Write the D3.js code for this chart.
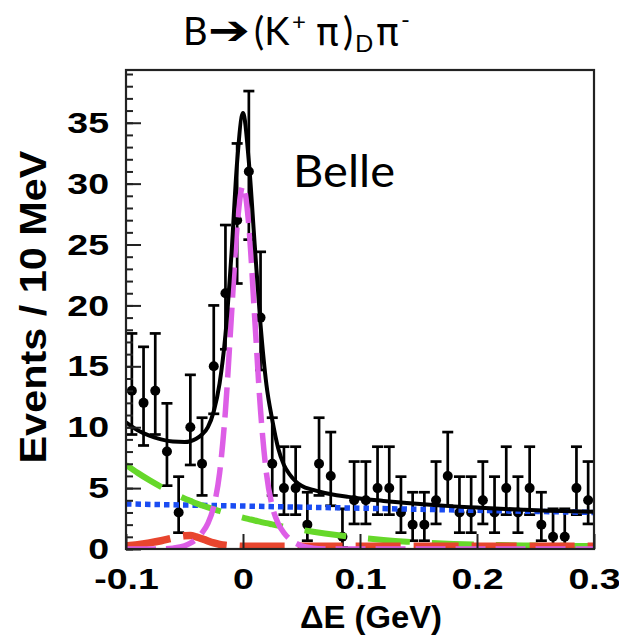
<!DOCTYPE html>
<html>
<head>
<meta charset="utf-8">
<script src="https://cdn.jsdelivr.net/npm/d3@7"></script>
<style>
  html, body { margin: 0; padding: 0; background: #fff; }
  svg { display: block; }
</style>
</head>
<body>
<svg id="chart" width="619" height="637"></svg>
<script>
// ---- Data: ΔE distribution, 10 MeV bins ----
const binCenters = [
  -0.095, -0.085, -0.075, -0.065, -0.055, -0.045, -0.035, -0.025, -0.015, -0.005,
   0.005,  0.015,  0.025,  0.035,  0.045,  0.055,  0.065,  0.075,  0.085,  0.095,
   0.105,  0.115,  0.125,  0.135,  0.145,  0.155,  0.165,  0.175,  0.185,  0.195,
   0.205,  0.215,  0.225,  0.235,  0.245,  0.255,  0.265,  0.275,  0.285,  0.295
];
const counts = [
  13, 12, 13, 8, 3, 10, 7, 15, 21, 27,
  31, 19, 7, 5, 5, 2, 7, 6, 1, 4,
  4, 5, 5, 3, 2, 2, 4, 6, 3, 3,
  4, 3, 5, 3, 5, 2, 1, 1, 5, 4
];
// upper / lower ends of the error bars
const errHigh = [
  17.7, 16.6, 17.7, 11.96, 5.94, 14.3, 10.78, 20.0, 26.6, 33.3,
  37.6, 24.4, 10.78, 8.4, 8.4, 4.66, 10.78, 9.6, 3.3, 7.18,
  7.18, 8.4, 8.4, 5.94, 4.66, 4.66, 7.18, 9.6, 5.94, 5.94,
  7.18, 5.94, 8.4, 5.94, 8.4, 4.66, 3.3, 3.3, 8.4, 7.18
];
const errLow = [
  9.4, 8.5, 9.4, 5.2, 1.34, 6.9, 4.4, 11.1, 16.4, 21.8,
  25.4, 14.7, 4.4, 2.82, 2.82, 0.68, 4.4, 3.55, 0.13, 2.06,
  2.06, 2.82, 2.82, 1.34, 0.68, 0.68, 2.06, 3.55, 1.34, 1.34,
  2.06, 1.34, 2.82, 1.34, 2.82, 0.68, 0.13, 0.13, 2.82, 2.06
];

// ---- Fit components sampled on a common ΔE grid ----
const curveX = [
  -0.1, -0.09, -0.08, -0.07, -0.06, -0.05, -0.045, -0.04, -0.035, -0.03,
  -0.025, -0.02, -0.015, -0.01, -0.005, 0, 0.005, 0.01, 0.015, 0.02,
  0.025, 0.03, 0.035, 0.04, 0.045, 0.05, 0.06, 0.07, 0.08, 0.09,
  0.1, 0.12, 0.14, 0.16, 0.18, 0.2, 0.22, 0.24, 0.26, 0.28, 0.3
];
const fitTotal = [
  10.4, 9.75, 9.3, 9.0, 8.82, 8.78, 8.85, 9.05, 9.4, 10.0,
  11.3, 13.6, 17.6, 24.0, 31.8, 35.8, 31.8, 25.0, 18.4, 13.5,
  10.6, 8.3, 6.9, 6.1, 5.55, 5.2, 4.85, 4.6, 4.42, 4.28,
  4.15, 3.95, 3.78, 3.63, 3.5, 3.4, 3.3, 3.22, 3.15, 3.1, 3.05
];
const signalPdf = [
  0, 0, 0, 0.01, 0.07, 0.26, 0.48, 0.81, 1.33, 2.11,
  3.5, 6.23, 11.37, 18.97, 26.54, 29.8, 26.54, 18.97, 11.37, 6.23,
  3.5, 2.11, 1.33, 0.81, 0.48, 0.26, 0.07, 0.01, 0, 0,
  0, 0, 0, 0, 0, 0, 0, 0, 0, 0, 0
];
const combBg = [
  6.9, 6.25, 5.65, 5.1, 4.6, 4.15, 3.95, 3.75, 3.58, 3.42,
  3.27, 3.12, 2.98, 2.84, 2.71, 2.58, 2.46, 2.34, 2.23, 2.12,
  2.02, 1.92, 1.83, 1.74, 1.65, 1.57, 1.42, 1.28, 1.15, 1.03,
  0.92, 0.74, 0.6, 0.5, 0.42, 0.36, 0.32, 0.29, 0.27, 0.25, 0.24
];
const peakingBg = [
  0.25, 0.35, 0.5, 0.68, 0.9, 1.08, 1.1, 1.0, 0.84, 0.66,
  0.5, 0.38, 0.3, 0.26, 0.24, 0.22, 0.22, 0.22, 0.22, 0.22,
  0.22, 0.22, 0.22, 0.22, 0.22, 0.22, 0.22, 0.22, 0.22, 0.22,
  0.22, 0.22, 0.22, 0.22, 0.22, 0.22, 0.22, 0.22, 0.22, 0.22, 0.22
];
const continuumX = [-0.1, 0.3];
const continuumY = [3.7, 3.0];

// ---- Axis ticks ----
const xTickValues = [-0.1, 0, 0.1, 0.2, 0.3];
const xTickLabels = ["-0.1", "0", "0.1", "0.2", "0.3"];
const yTickValues = [0, 5, 10, 15, 20, 25, 30, 35];
const yTickLabels = ["0", "5", "10", "15", "20", "25", "30", "35"];
const yMinorValues = d3.range(0, 40, 1);

// ---- Layout ----
const plot = { left: 126, right: 594, top: 70, bottom: 549 };
const svg = d3.select("#chart");

const x = d3.scaleLinear().domain([-0.1, 0.3]).range([plot.left, plot.right]);
const y = d3.scaleLinear().domain([0, 39.33]).range([plot.bottom, plot.top]);

svg.append("defs").append("clipPath").attr("id", "plotClip")
  .append("rect")
  .attr("x", plot.left).attr("y", plot.top)
  .attr("width", plot.right - plot.left).attr("height", plot.bottom - plot.top);

const tickFont = "'Liberation Sans', Arial, Helvetica, sans-serif";
const stretch = 1.25;
function widen(sel, factor) {
  sel.each(function () {
    const w = this.getComputedTextLength();
    d3.select(this).attr("textLength", w * factor).attr("lengthAdjust", "spacingAndGlyphs");
  });
}

// ---- Data points with error bars ----
const pts = svg.append("g").attr("clip-path", "url(#plotClip)");
const bins = binCenters.map((c, i) => ({ c, n: counts[i], hi: errHigh[i], lo: errLow[i] }));
const capHalf = 5.5;
const barW = 2.7;
pts.selectAll("line.bar").data(bins).join("line")
  .attr("class", "bar")
  .attr("x1", d => x(d.c)).attr("x2", d => x(d.c))
  .attr("y1", d => y(d.lo)).attr("y2", d => y(d.hi))
  .attr("stroke", "#000").attr("stroke-width", barW);
pts.selectAll("line.capHi").data(bins).join("line")
  .attr("class", "capHi")
  .attr("x1", d => x(d.c) - capHalf).attr("x2", d => x(d.c) + capHalf)
  .attr("y1", d => y(d.hi)).attr("y2", d => y(d.hi))
  .attr("stroke", "#000").attr("stroke-width", barW);
pts.selectAll("line.capLo").data(bins).join("line")
  .attr("class", "capLo")
  .attr("x1", d => x(d.c) - capHalf).attr("x2", d => x(d.c) + capHalf)
  .attr("y1", d => y(d.lo)).attr("y2", d => y(d.lo))
  .attr("stroke", "#000").attr("stroke-width", barW);
pts.selectAll("circle").data(bins).join("circle")
  .attr("cx", d => x(d.c)).attr("cy", d => y(d.n)).attr("r", 5)
  .attr("fill", "#000");

// ---- Fit curves ----
const curves = svg.append("g").attr("clip-path", "url(#plotClip)");
const lineGen = d3.line().x(d => x(d[0])).y(d => y(d[1])).curve(d3.curveMonotoneX);
const zip = ys => curveX.map((v, i) => [v, ys[i]]);

curves.append("path")
  .attr("d", lineGen(continuumX.map((v, i) => [v, continuumY[i]])))
  .attr("fill", "none").attr("stroke", "#1a4cf2").attr("stroke-width", 5.5)
  .attr("stroke-dasharray", "5.5,4");
curves.append("path")
  .attr("d", lineGen(zip(combBg)))
  .attr("fill", "none").attr("stroke", "#66d82a").attr("stroke-width", 6)
  .attr("stroke-dasharray", "42,22");
curves.append("path")
  .attr("d", lineGen(zip(peakingBg)))
  .attr("fill", "none").attr("stroke", "#e8452e").attr("stroke-width", 7.5)
  .attr("stroke-dasharray", "45,13");
curves.append("path")
  .attr("d", lineGen(zip(signalPdf)))
  .attr("fill", "none").attr("stroke", "#dd5ee6").attr("stroke-width", 5.5)
  .attr("stroke-dasharray", "30,10");
curves.append("path")
  .attr("d", lineGen(zip(fitTotal)))
  .attr("fill", "none").attr("stroke", "#000").attr("stroke-width", 4)
  .attr("stroke-linejoin", "round");

// ---- Axes ----
const yMinor = svg.append("g").attr("transform", `translate(${plot.left},0)`)
  .call(d3.axisLeft(y).tickValues(yMinorValues).tickSizeInner(-7).tickSizeOuter(0).tickFormat(""));
yMinor.select(".domain").remove();
yMinor.selectAll("line").attr("stroke", "#222").attr("stroke-width", 2);

const yAxis = svg.append("g").attr("transform", `translate(${plot.left},0)`)
  .call(d3.axisLeft(y).tickValues(yTickValues).tickSizeInner(-15).tickSizeOuter(0)
    .tickPadding(17).tickFormat((d, i) => yTickLabels[i]));
yAxis.select(".domain").remove();
yAxis.selectAll("line").attr("stroke", "#222").attr("stroke-width", 2);
yAxis.selectAll("text")
  .attr("font-family", tickFont).attr("font-weight", "bold").attr("font-size", 30)
  .attr("fill", "#000").call(widen, stretch);

const xAxis = svg.append("g").attr("transform", `translate(0,${plot.bottom})`)
  .call(d3.axisBottom(x).tickValues(xTickValues).tickSizeInner(-15).tickSizeOuter(0)
    .tickPadding(19).tickFormat((d, i) => xTickLabels[i]));
xAxis.select(".domain").remove();
xAxis.selectAll("line").attr("stroke", "#222").attr("stroke-width", 2);
xAxis.selectAll("text")
  .attr("font-family", tickFont).attr("font-weight", "bold").attr("font-size", 30)
  .attr("fill", "#000").call(widen, stretch);

// frame
svg.append("rect")
  .attr("x", plot.left).attr("y", plot.top)
  .attr("width", plot.right - plot.left).attr("height", plot.bottom - plot.top)
  .attr("fill", "none").attr("stroke", "#222").attr("stroke-width", 2.2);

// ---- Axis titles ----
svg.append("text")
  .attr("x", 371).attr("y", 628)
  .attr("text-anchor", "middle")
  .attr("font-family", tickFont).attr("font-weight", "bold").attr("font-size", 32)
  .attr("textLength", 142).attr("lengthAdjust", "spacingAndGlyphs")
  .text("ΔE (GeV)");

svg.append("text")
  .attr("transform", "translate(46,307) rotate(-90)")
  .attr("text-anchor", "middle")
  .attr("font-family", tickFont).attr("font-weight", "bold").attr("font-size", 36)
  .attr("textLength", 313).attr("lengthAdjust", "spacingAndGlyphs")
  .text("Events / 10 MeV");

// ---- Experiment label ----
svg.append("text")
  .attr("x", 293).attr("y", 187)
  .attr("font-family", "Lato, 'Noto Sans', sans-serif").attr("font-size", 44)
  .attr("textLength", 102).attr("lengthAdjust", "spacingAndGlyphs")
  .text("Belle");

// ---- Title: B → (K+ π)_D π- ----
const titleFont = "Lato, 'Noto Sans', 'DejaVu Sans', sans-serif";
const title = svg.append("g").attr("font-family", titleFont).attr("fill", "#000");
title.append("text").attr("x", 183).attr("y", 45).attr("font-size", 38).text("B");
title.append("text").attr("x", 208).attr("y", 44).attr("font-size", 40)
  .attr("font-family", "'DejaVu Sans', sans-serif")
  .attr("textLength", 42).attr("lengthAdjust", "spacingAndGlyphs").text("➔");
title.append("text").attr("x", 254).attr("y", 45).attr("font-size", 38).text("(K");
title.append("text").attr("x", 292).attr("y", 30).attr("font-size", 24).text("+");
title.append("text").attr("x", 316).attr("y", 45).attr("font-size", 38)
  .attr("font-family", "'DejaVu Sans', sans-serif").text("π");
title.append("text").attr("x", 343).attr("y", 45).attr("font-size", 38).text(")");
title.append("text").attr("x", 355).attr("y", 52).attr("font-size", 24).text("D");
title.append("text").attr("x", 376).attr("y", 45).attr("font-size", 38)
  .attr("font-family", "'DejaVu Sans', sans-serif").text("π");
title.append("text").attr("x", 401).attr("y", 28).attr("font-size", 24).text("-");
</script>
</body>
</html>
